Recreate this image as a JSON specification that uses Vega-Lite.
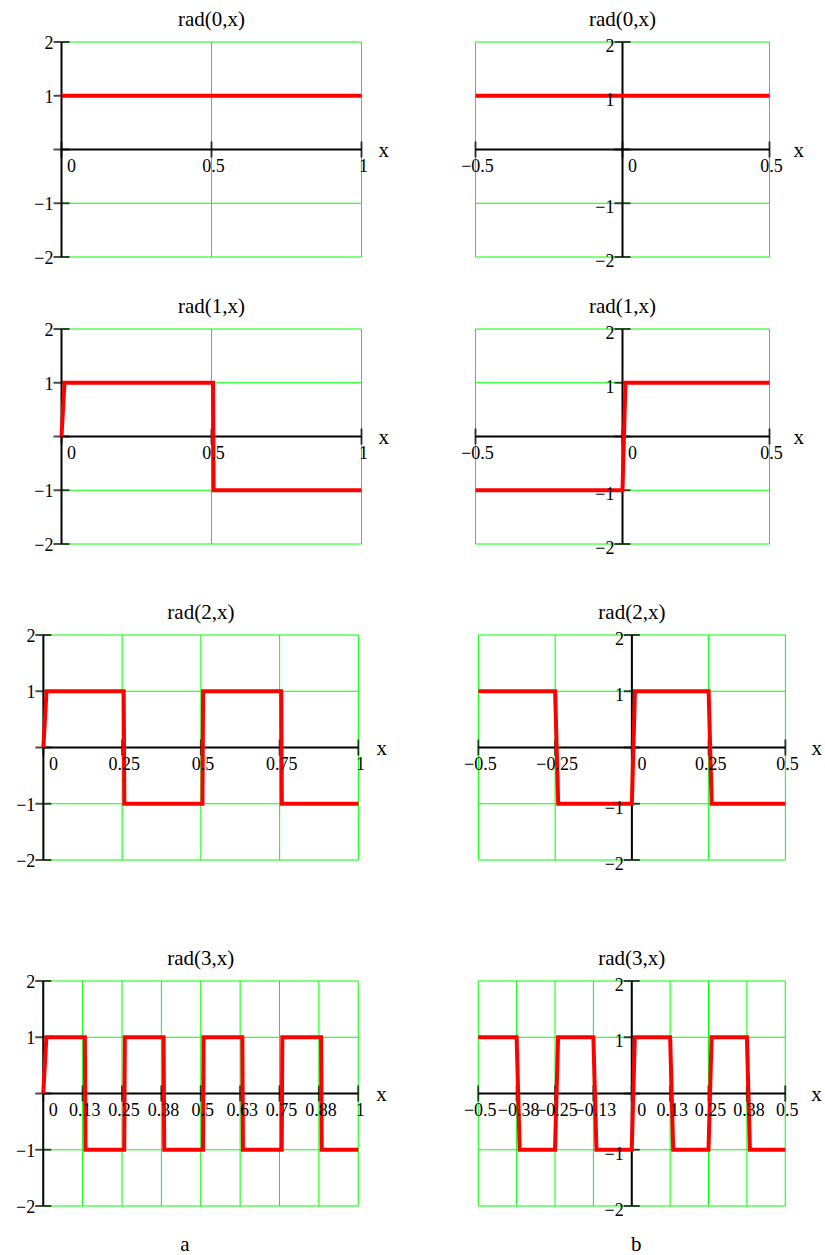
{
  "$schema": "https://vega.github.io/schema/vega-lite/v6.json",
  "background": "white",
  "padding": {"left": 16, "top": 9, "right": 5, "bottom": 5},
  "config": {
    "view": {"stroke": null},
    "text": {"font": "Liberation Serif", "fontSize": 18, "color": "black"},
    "title": {"font": "Liberation Serif", "fontSize": 21, "fontWeight": "normal", "color": "black", "offset": 5, "frame": "group", "anchor": "middle"}
  },
  "datasets": {
    "curves": [
      {"panel": "L0", "x": 0, "y": 1}, {"panel": "L0", "x": 1, "y": 1},
      {"panel": "L1", "x": 0, "y": 0}, {"panel": "L1", "x": 0.01, "y": 1}, {"panel": "L1", "x": 0.505, "y": 1}, {"panel": "L1", "x": 0.507, "y": -1}, {"panel": "L1", "x": 1, "y": -1},
      {"panel": "L2", "x": 0, "y": 0}, {"panel": "L2", "x": 0.01, "y": 1}, {"panel": "L2", "x": 0.255, "y": 1}, {"panel": "L2", "x": 0.257, "y": -1}, {"panel": "L2", "x": 0.505, "y": -1}, {"panel": "L2", "x": 0.507, "y": 1}, {"panel": "L2", "x": 0.755, "y": 1}, {"panel": "L2", "x": 0.757, "y": -1}, {"panel": "L2", "x": 1, "y": -1},
      {"panel": "L3", "x": 0, "y": 0}, {"panel": "L3", "x": 0.01, "y": 1}, {"panel": "L3", "x": 0.132, "y": 1}, {"panel": "L3", "x": 0.134, "y": -1}, {"panel": "L3", "x": 0.257, "y": -1}, {"panel": "L3", "x": 0.259, "y": 1}, {"panel": "L3", "x": 0.382, "y": 1}, {"panel": "L3", "x": 0.384, "y": -1}, {"panel": "L3", "x": 0.507, "y": -1}, {"panel": "L3", "x": 0.509, "y": 1}, {"panel": "L3", "x": 0.632, "y": 1}, {"panel": "L3", "x": 0.634, "y": -1}, {"panel": "L3", "x": 0.757, "y": -1}, {"panel": "L3", "x": 0.759, "y": 1}, {"panel": "L3", "x": 0.882, "y": 1}, {"panel": "L3", "x": 0.884, "y": -1}, {"panel": "L3", "x": 1, "y": -1},
      {"panel": "R0", "x": -0.5, "y": 1}, {"panel": "R0", "x": 0.5, "y": 1},
      {"panel": "R1", "x": -0.5, "y": -1}, {"panel": "R1", "x": 0, "y": -1}, {"panel": "R1", "x": 0.01, "y": 1}, {"panel": "R1", "x": 0.5, "y": 1},
      {"panel": "R2", "x": -0.5, "y": 1}, {"panel": "R2", "x": -0.25, "y": 1}, {"panel": "R2", "x": -0.24, "y": -1}, {"panel": "R2", "x": 0, "y": -1}, {"panel": "R2", "x": 0.01, "y": 1}, {"panel": "R2", "x": 0.25, "y": 1}, {"panel": "R2", "x": 0.26, "y": -1}, {"panel": "R2", "x": 0.5, "y": -1},
      {"panel": "R3", "x": -0.5, "y": 1}, {"panel": "R3", "x": -0.375, "y": 1}, {"panel": "R3", "x": -0.365, "y": -1}, {"panel": "R3", "x": -0.25, "y": -1}, {"panel": "R3", "x": -0.24, "y": 1}, {"panel": "R3", "x": -0.125, "y": 1}, {"panel": "R3", "x": -0.115, "y": -1}, {"panel": "R3", "x": 0, "y": -1}, {"panel": "R3", "x": 0.01, "y": 1}, {"panel": "R3", "x": 0.125, "y": 1}, {"panel": "R3", "x": 0.135, "y": -1}, {"panel": "R3", "x": 0.25, "y": -1}, {"panel": "R3", "x": 0.26, "y": 1}, {"panel": "R3", "x": 0.375, "y": 1}, {"panel": "R3", "x": 0.385, "y": -1}, {"panel": "R3", "x": 0.5, "y": -1}
    ],
    "xticks": [
      {"set": "Lc", "x": 0}, {"set": "Lc", "x": 0.5}, {"set": "Lc", "x": 1},
      {"set": "Lm", "x": 0}, {"set": "Lm", "x": 0.25}, {"set": "Lm", "x": 0.5}, {"set": "Lm", "x": 0.75}, {"set": "Lm", "x": 1},
      {"set": "Lf", "x": 0}, {"set": "Lf", "x": 0.125}, {"set": "Lf", "x": 0.25}, {"set": "Lf", "x": 0.375}, {"set": "Lf", "x": 0.5}, {"set": "Lf", "x": 0.625}, {"set": "Lf", "x": 0.75}, {"set": "Lf", "x": 0.875}, {"set": "Lf", "x": 1},
      {"set": "Rc", "x": -0.5}, {"set": "Rc", "x": 0}, {"set": "Rc", "x": 0.5},
      {"set": "Rm", "x": -0.5}, {"set": "Rm", "x": -0.25}, {"set": "Rm", "x": 0}, {"set": "Rm", "x": 0.25}, {"set": "Rm", "x": 0.5},
      {"set": "Rf", "x": -0.5}, {"set": "Rf", "x": -0.375}, {"set": "Rf", "x": -0.25}, {"set": "Rf", "x": -0.125}, {"set": "Rf", "x": 0}, {"set": "Rf", "x": 0.125}, {"set": "Rf", "x": 0.25}, {"set": "Rf", "x": 0.375}, {"set": "Rf", "x": 0.5}
    ],
    "yticks": [{"y": -2}, {"y": -1}, {"y": 0}, {"y": 1}, {"y": 2}]
  },
  "center": true,
  "spacing": 74,
  "vconcat": [
    {
      "center": true,
      "spacing": 44,
      "vconcat": [
        {
          "center": true,
          "spacing": 25,
          "vconcat": [
            {
              "bounds": "flush",
              "spacing": 114,
              "hconcat": [
                {
                  "width": 300, "height": 215,
                  "title": "rad(0,x)",
                  "layer": [
                    {"data": {"name": "xticks"}, "transform": [{"filter": "datum.set === 'Lc'"}], "mark": {"type": "rule", "color": "#00ff00", "strokeWidth": 1}, "encoding": {"x": {"field": "x", "type": "quantitative", "scale": {"domain": [0, 1], "nice": false, "zero": false}, "axis": null}}},
                    {"data": {"name": "yticks"}, "mark": {"type": "rule", "color": "#00ff00", "strokeWidth": 1}, "encoding": {"y": {"field": "y", "type": "quantitative", "scale": {"domain": [-2, 2], "nice": false}, "axis": null}}},
                    {"data": {"values": [{}]}, "mark": {"type": "rule", "color": "black", "strokeWidth": 2}, "encoding": {"x": {"datum": 0}, "x2": {"datum": 1}, "y": {"datum": 0}}},
                    {"data": {"values": [{}]}, "mark": {"type": "rule", "color": "black", "strokeWidth": 2}, "encoding": {"x": {"datum": 0}, "y": {"datum": -2}, "y2": {"datum": 2}}},
                    {"data": {"name": "yticks"}, "mark": {"type": "tick", "orient": "horizontal", "size": 16, "thickness": 2, "color": "black"}, "encoding": {"x": {"datum": 0}, "y": {"field": "y", "type": "quantitative"}}},
                    {"data": {"name": "xticks"}, "transform": [{"filter": "datum.set === 'Lc'"}], "mark": {"type": "tick", "orient": "vertical", "size": 16, "thickness": 2, "color": "black"}, "encoding": {"x": {"field": "x", "type": "quantitative"}, "y": {"datum": 0}}},
                    {"data": {"name": "curves"}, "transform": [{"filter": "datum.panel === 'L0'"}], "mark": {"type": "line", "color": "#ff0000", "strokeWidth": 4}, "encoding": {"x": {"field": "x", "type": "quantitative"}, "y": {"field": "y", "type": "quantitative"}}},
                    {"data": {"name": "xticks"}, "transform": [{"filter": "datum.set === 'Lc' && datum.x !== 0"}], "mark": {"type": "text", "dx": 2, "dy": 22, "baseline": "alphabetic"}, "encoding": {"x": {"field": "x", "type": "quantitative"}, "y": {"datum": 0}, "text": {"field": "x", "type": "quantitative", "format": ".2~f"}}},
                    {"data": {"name": "xticks"}, "transform": [{"filter": "datum.set === 'Lc' && datum.x === 0"}], "mark": {"type": "text", "dx": 10, "dy": 22, "baseline": "alphabetic"}, "encoding": {"x": {"field": "x", "type": "quantitative"}, "y": {"datum": 0}, "text": {"field": "x", "type": "quantitative", "format": ".2~f"}}},
                    {"data": {"name": "yticks"}, "transform": [{"filter": "datum.y !== 0"}], "mark": {"type": "text", "align": "right", "dx": -8, "dy": 2, "baseline": "middle"}, "encoding": {"x": {"datum": 0}, "y": {"field": "y", "type": "quantitative"}, "text": {"field": "y", "type": "quantitative", "format": "d"}}},
                    {"data": {"values": [{}]}, "mark": {"type": "text", "align": "left", "dx": 17, "dy": 7, "baseline": "alphabetic", "fontSize": 21}, "encoding": {"x": {"datum": 1}, "y": {"datum": 0}, "text": {"value": "x"}}}
                  ]
                },
                {
                  "width": 294, "height": 215,
                  "title": {"text": "rad(0,x)", "offset": 8},
                  "layer": [
                    {"data": {"name": "xticks"}, "transform": [{"filter": "datum.set === 'Rc'"}], "mark": {"type": "rule", "color": "#00ff00", "strokeWidth": 1}, "encoding": {"x": {"field": "x", "type": "quantitative", "scale": {"domain": [-0.5, 0.5], "nice": false, "zero": false}, "axis": null}}},
                    {"data": {"name": "yticks"}, "mark": {"type": "rule", "color": "#00ff00", "strokeWidth": 1}, "encoding": {"y": {"field": "y", "type": "quantitative", "scale": {"domain": [-2, 2], "nice": false}, "axis": null}}},
                    {"data": {"values": [{}]}, "mark": {"type": "rule", "color": "black", "strokeWidth": 2}, "encoding": {"x": {"datum": -0.5}, "x2": {"datum": 0.5}, "y": {"datum": 0}}},
                    {"data": {"values": [{}]}, "mark": {"type": "rule", "color": "black", "strokeWidth": 2}, "encoding": {"x": {"datum": 0}, "y": {"datum": -2}, "y2": {"datum": 2}}},
                    {"data": {"name": "yticks"}, "mark": {"type": "tick", "orient": "horizontal", "size": 16, "thickness": 2, "color": "black"}, "encoding": {"x": {"datum": 0}, "y": {"field": "y", "type": "quantitative"}}},
                    {"data": {"name": "xticks"}, "transform": [{"filter": "datum.set === 'Rc'"}], "mark": {"type": "tick", "orient": "vertical", "size": 16, "thickness": 2, "color": "black"}, "encoding": {"x": {"field": "x", "type": "quantitative"}, "y": {"datum": 0}}},
                    {"data": {"name": "curves"}, "transform": [{"filter": "datum.panel === 'R0'"}], "mark": {"type": "line", "color": "#ff0000", "strokeWidth": 4}, "encoding": {"x": {"field": "x", "type": "quantitative"}, "y": {"field": "y", "type": "quantitative"}}},
                    {"data": {"name": "xticks"}, "transform": [{"filter": "datum.set === 'Rc' && datum.x !== 0"}], "mark": {"type": "text", "dx": 2, "dy": 22, "baseline": "alphabetic"}, "encoding": {"x": {"field": "x", "type": "quantitative"}, "y": {"datum": 0}, "text": {"field": "x", "type": "quantitative", "format": ".2~f"}}},
                    {"data": {"name": "xticks"}, "transform": [{"filter": "datum.set === 'Rc' && datum.x === 0"}], "mark": {"type": "text", "dx": 10, "dy": 22, "baseline": "alphabetic"}, "encoding": {"x": {"field": "x", "type": "quantitative"}, "y": {"datum": 0}, "text": {"field": "x", "type": "quantitative", "format": ".2~f"}}},
                    {"data": {"name": "yticks"}, "transform": [{"filter": "datum.y !== 0"}], "mark": {"type": "text", "align": "right", "dx": -8, "dy": 5, "baseline": "middle"}, "encoding": {"x": {"datum": 0}, "y": {"field": "y", "type": "quantitative"}, "text": {"field": "y", "type": "quantitative", "format": "d"}}},
                    {"data": {"values": [{}]}, "mark": {"type": "text", "align": "left", "dx": 24, "dy": 7, "baseline": "alphabetic", "fontSize": 21}, "encoding": {"x": {"datum": 0.5}, "y": {"datum": 0}, "text": {"value": "x"}}}
                  ]
                }
              ]
            },
            {
              "bounds": "flush",
              "spacing": 114,
              "hconcat": [
                {
                  "width": 300, "height": 215,
                  "title": "rad(1,x)",
                  "layer": [
                    {"data": {"name": "xticks"}, "transform": [{"filter": "datum.set === 'Lc'"}], "mark": {"type": "rule", "color": "#00ff00", "strokeWidth": 1}, "encoding": {"x": {"field": "x", "type": "quantitative", "scale": {"domain": [0, 1], "nice": false, "zero": false}, "axis": null}}},
                    {"data": {"name": "yticks"}, "mark": {"type": "rule", "color": "#00ff00", "strokeWidth": 1}, "encoding": {"y": {"field": "y", "type": "quantitative", "scale": {"domain": [-2, 2], "nice": false}, "axis": null}}},
                    {"data": {"values": [{}]}, "mark": {"type": "rule", "color": "black", "strokeWidth": 2}, "encoding": {"x": {"datum": 0}, "x2": {"datum": 1}, "y": {"datum": 0}}},
                    {"data": {"values": [{}]}, "mark": {"type": "rule", "color": "black", "strokeWidth": 2}, "encoding": {"x": {"datum": 0}, "y": {"datum": -2}, "y2": {"datum": 2}}},
                    {"data": {"name": "yticks"}, "mark": {"type": "tick", "orient": "horizontal", "size": 16, "thickness": 2, "color": "black"}, "encoding": {"x": {"datum": 0}, "y": {"field": "y", "type": "quantitative"}}},
                    {"data": {"name": "xticks"}, "transform": [{"filter": "datum.set === 'Lc'"}], "mark": {"type": "tick", "orient": "vertical", "size": 16, "thickness": 2, "color": "black"}, "encoding": {"x": {"field": "x", "type": "quantitative"}, "y": {"datum": 0}}},
                    {"data": {"name": "curves"}, "transform": [{"filter": "datum.panel === 'L1'"}], "mark": {"type": "line", "color": "#ff0000", "strokeWidth": 4}, "encoding": {"x": {"field": "x", "type": "quantitative"}, "y": {"field": "y", "type": "quantitative"}}},
                    {"data": {"name": "xticks"}, "transform": [{"filter": "datum.set === 'Lc' && datum.x !== 0"}], "mark": {"type": "text", "dx": 2, "dy": 22, "baseline": "alphabetic"}, "encoding": {"x": {"field": "x", "type": "quantitative"}, "y": {"datum": 0}, "text": {"field": "x", "type": "quantitative", "format": ".2~f"}}},
                    {"data": {"name": "xticks"}, "transform": [{"filter": "datum.set === 'Lc' && datum.x === 0"}], "mark": {"type": "text", "dx": 10, "dy": 22, "baseline": "alphabetic"}, "encoding": {"x": {"field": "x", "type": "quantitative"}, "y": {"datum": 0}, "text": {"field": "x", "type": "quantitative", "format": ".2~f"}}},
                    {"data": {"name": "yticks"}, "transform": [{"filter": "datum.y !== 0"}], "mark": {"type": "text", "align": "right", "dx": -8, "dy": 2, "baseline": "middle"}, "encoding": {"x": {"datum": 0}, "y": {"field": "y", "type": "quantitative"}, "text": {"field": "y", "type": "quantitative", "format": "d"}}},
                    {"data": {"values": [{}]}, "mark": {"type": "text", "align": "left", "dx": 17, "dy": 7, "baseline": "alphabetic", "fontSize": 21}, "encoding": {"x": {"datum": 1}, "y": {"datum": 0}, "text": {"value": "x"}}}
                  ]
                },
                {
                  "width": 294, "height": 215,
                  "title": {"text": "rad(1,x)", "offset": 8},
                  "layer": [
                    {"data": {"name": "xticks"}, "transform": [{"filter": "datum.set === 'Rc'"}], "mark": {"type": "rule", "color": "#00ff00", "strokeWidth": 1}, "encoding": {"x": {"field": "x", "type": "quantitative", "scale": {"domain": [-0.5, 0.5], "nice": false, "zero": false}, "axis": null}}},
                    {"data": {"name": "yticks"}, "mark": {"type": "rule", "color": "#00ff00", "strokeWidth": 1}, "encoding": {"y": {"field": "y", "type": "quantitative", "scale": {"domain": [-2, 2], "nice": false}, "axis": null}}},
                    {"data": {"values": [{}]}, "mark": {"type": "rule", "color": "black", "strokeWidth": 2}, "encoding": {"x": {"datum": -0.5}, "x2": {"datum": 0.5}, "y": {"datum": 0}}},
                    {"data": {"values": [{}]}, "mark": {"type": "rule", "color": "black", "strokeWidth": 2}, "encoding": {"x": {"datum": 0}, "y": {"datum": -2}, "y2": {"datum": 2}}},
                    {"data": {"name": "yticks"}, "mark": {"type": "tick", "orient": "horizontal", "size": 16, "thickness": 2, "color": "black"}, "encoding": {"x": {"datum": 0}, "y": {"field": "y", "type": "quantitative"}}},
                    {"data": {"name": "xticks"}, "transform": [{"filter": "datum.set === 'Rc'"}], "mark": {"type": "tick", "orient": "vertical", "size": 16, "thickness": 2, "color": "black"}, "encoding": {"x": {"field": "x", "type": "quantitative"}, "y": {"datum": 0}}},
                    {"data": {"name": "curves"}, "transform": [{"filter": "datum.panel === 'R1'"}], "mark": {"type": "line", "color": "#ff0000", "strokeWidth": 4}, "encoding": {"x": {"field": "x", "type": "quantitative"}, "y": {"field": "y", "type": "quantitative"}}},
                    {"data": {"name": "xticks"}, "transform": [{"filter": "datum.set === 'Rc' && datum.x !== 0"}], "mark": {"type": "text", "dx": 2, "dy": 22, "baseline": "alphabetic"}, "encoding": {"x": {"field": "x", "type": "quantitative"}, "y": {"datum": 0}, "text": {"field": "x", "type": "quantitative", "format": ".2~f"}}},
                    {"data": {"name": "xticks"}, "transform": [{"filter": "datum.set === 'Rc' && datum.x === 0"}], "mark": {"type": "text", "dx": 10, "dy": 22, "baseline": "alphabetic"}, "encoding": {"x": {"field": "x", "type": "quantitative"}, "y": {"datum": 0}, "text": {"field": "x", "type": "quantitative", "format": ".2~f"}}},
                    {"data": {"name": "yticks"}, "transform": [{"filter": "datum.y !== 0"}], "mark": {"type": "text", "align": "right", "dx": -8, "dy": 5, "baseline": "middle"}, "encoding": {"x": {"datum": 0}, "y": {"field": "y", "type": "quantitative"}, "text": {"field": "y", "type": "quantitative", "format": "d"}}},
                    {"data": {"values": [{}]}, "mark": {"type": "text", "align": "left", "dx": 24, "dy": 7, "baseline": "alphabetic", "fontSize": 21}, "encoding": {"x": {"datum": 0.5}, "y": {"datum": 0}, "text": {"value": "x"}}}
                  ]
                }
              ]
            }
          ]
        },
        {
          "bounds": "flush",
          "spacing": 120,
          "hconcat": [
            {
              "width": 315, "height": 225,
              "title": "rad(2,x)",
              "layer": [
                {"data": {"name": "xticks"}, "transform": [{"filter": "datum.set === 'Lm'"}], "mark": {"type": "rule", "color": "#00ff00", "strokeWidth": 1}, "encoding": {"x": {"field": "x", "type": "quantitative", "scale": {"domain": [0, 1], "nice": false, "zero": false}, "axis": null}}},
                {"data": {"name": "yticks"}, "mark": {"type": "rule", "color": "#00ff00", "strokeWidth": 1}, "encoding": {"y": {"field": "y", "type": "quantitative", "scale": {"domain": [-2, 2], "nice": false}, "axis": null}}},
                {"data": {"values": [{}]}, "mark": {"type": "rule", "color": "black", "strokeWidth": 2}, "encoding": {"x": {"datum": 0}, "x2": {"datum": 1}, "y": {"datum": 0}}},
                {"data": {"values": [{}]}, "mark": {"type": "rule", "color": "black", "strokeWidth": 2}, "encoding": {"x": {"datum": 0}, "y": {"datum": -2}, "y2": {"datum": 2}}},
                {"data": {"name": "yticks"}, "mark": {"type": "tick", "orient": "horizontal", "size": 16, "thickness": 2, "color": "black"}, "encoding": {"x": {"datum": 0}, "y": {"field": "y", "type": "quantitative"}}},
                {"data": {"name": "xticks"}, "transform": [{"filter": "datum.set === 'Lm'"}], "mark": {"type": "tick", "orient": "vertical", "size": 16, "thickness": 2, "color": "black"}, "encoding": {"x": {"field": "x", "type": "quantitative"}, "y": {"datum": 0}}},
                {"data": {"name": "curves"}, "transform": [{"filter": "datum.panel === 'L2'"}], "mark": {"type": "line", "color": "#ff0000", "strokeWidth": 4}, "encoding": {"x": {"field": "x", "type": "quantitative"}, "y": {"field": "y", "type": "quantitative"}}},
                {"data": {"name": "xticks"}, "transform": [{"filter": "datum.set === 'Lm' && datum.x !== 0"}], "mark": {"type": "text", "dx": 2, "dy": 22, "baseline": "alphabetic"}, "encoding": {"x": {"field": "x", "type": "quantitative"}, "y": {"datum": 0}, "text": {"field": "x", "type": "quantitative", "format": ".2~f"}}},
                {"data": {"name": "xticks"}, "transform": [{"filter": "datum.set === 'Lm' && datum.x === 0"}], "mark": {"type": "text", "dx": 10, "dy": 22, "baseline": "alphabetic"}, "encoding": {"x": {"field": "x", "type": "quantitative"}, "y": {"datum": 0}, "text": {"field": "x", "type": "quantitative", "format": ".2~f"}}},
                {"data": {"name": "yticks"}, "transform": [{"filter": "datum.y !== 0"}], "mark": {"type": "text", "align": "right", "dx": -8, "dy": 2, "baseline": "middle"}, "encoding": {"x": {"datum": 0}, "y": {"field": "y", "type": "quantitative"}, "text": {"field": "y", "type": "quantitative", "format": "d"}}},
                {"data": {"values": [{}]}, "mark": {"type": "text", "align": "left", "dx": 18, "dy": 7, "baseline": "alphabetic", "fontSize": 21}, "encoding": {"x": {"datum": 1}, "y": {"datum": 0}, "text": {"value": "x"}}}
              ]
            },
            {
              "width": 307, "height": 225,
              "title": {"text": "rad(2,x)", "offset": 8},
              "layer": [
                {"data": {"name": "xticks"}, "transform": [{"filter": "datum.set === 'Rm'"}], "mark": {"type": "rule", "color": "#00ff00", "strokeWidth": 1}, "encoding": {"x": {"field": "x", "type": "quantitative", "scale": {"domain": [-0.5, 0.5], "nice": false, "zero": false}, "axis": null}}},
                {"data": {"name": "yticks"}, "mark": {"type": "rule", "color": "#00ff00", "strokeWidth": 1}, "encoding": {"y": {"field": "y", "type": "quantitative", "scale": {"domain": [-2, 2], "nice": false}, "axis": null}}},
                {"data": {"values": [{}]}, "mark": {"type": "rule", "color": "black", "strokeWidth": 2}, "encoding": {"x": {"datum": -0.5}, "x2": {"datum": 0.5}, "y": {"datum": 0}}},
                {"data": {"values": [{}]}, "mark": {"type": "rule", "color": "black", "strokeWidth": 2}, "encoding": {"x": {"datum": 0}, "y": {"datum": -2}, "y2": {"datum": 2}}},
                {"data": {"name": "yticks"}, "mark": {"type": "tick", "orient": "horizontal", "size": 16, "thickness": 2, "color": "black"}, "encoding": {"x": {"datum": 0}, "y": {"field": "y", "type": "quantitative"}}},
                {"data": {"name": "xticks"}, "transform": [{"filter": "datum.set === 'Rm'"}], "mark": {"type": "tick", "orient": "vertical", "size": 16, "thickness": 2, "color": "black"}, "encoding": {"x": {"field": "x", "type": "quantitative"}, "y": {"datum": 0}}},
                {"data": {"name": "curves"}, "transform": [{"filter": "datum.panel === 'R2'"}], "mark": {"type": "line", "color": "#ff0000", "strokeWidth": 4}, "encoding": {"x": {"field": "x", "type": "quantitative"}, "y": {"field": "y", "type": "quantitative"}}},
                {"data": {"name": "xticks"}, "transform": [{"filter": "datum.set === 'Rm' && datum.x !== 0"}], "mark": {"type": "text", "dx": 2, "dy": 22, "baseline": "alphabetic"}, "encoding": {"x": {"field": "x", "type": "quantitative"}, "y": {"datum": 0}, "text": {"field": "x", "type": "quantitative", "format": ".2~f"}}},
                {"data": {"name": "xticks"}, "transform": [{"filter": "datum.set === 'Rm' && datum.x === 0"}], "mark": {"type": "text", "dx": 10, "dy": 22, "baseline": "alphabetic"}, "encoding": {"x": {"field": "x", "type": "quantitative"}, "y": {"datum": 0}, "text": {"field": "x", "type": "quantitative", "format": ".2~f"}}},
                {"data": {"name": "yticks"}, "transform": [{"filter": "datum.y !== 0"}], "mark": {"type": "text", "align": "right", "dx": -8, "dy": 5, "baseline": "middle"}, "encoding": {"x": {"datum": 0}, "y": {"field": "y", "type": "quantitative"}, "text": {"field": "y", "type": "quantitative", "format": "d"}}},
                {"data": {"values": [{}]}, "mark": {"type": "text", "align": "left", "dx": 26, "dy": 7, "baseline": "alphabetic", "fontSize": 21}, "encoding": {"x": {"datum": 0.5}, "y": {"datum": 0}, "text": {"value": "x"}}}
              ]
            }
          ]
        }
      ]
    },
    {
      "bounds": "flush",
      "spacing": 120,
      "hconcat": [
        {
          "width": 315, "height": 225,
          "title": "rad(3,x)",
          "layer": [
            {"data": {"name": "xticks"}, "transform": [{"filter": "datum.set === 'Lf'"}], "mark": {"type": "rule", "color": "#00ff00", "strokeWidth": 1}, "encoding": {"x": {"field": "x", "type": "quantitative", "scale": {"domain": [0, 1], "nice": false, "zero": false}, "axis": null}}},
            {"data": {"name": "yticks"}, "mark": {"type": "rule", "color": "#00ff00", "strokeWidth": 1}, "encoding": {"y": {"field": "y", "type": "quantitative", "scale": {"domain": [-2, 2], "nice": false}, "axis": null}}},
            {"data": {"values": [{}]}, "mark": {"type": "rule", "color": "black", "strokeWidth": 2}, "encoding": {"x": {"datum": 0}, "x2": {"datum": 1}, "y": {"datum": 0}}},
            {"data": {"values": [{}]}, "mark": {"type": "rule", "color": "black", "strokeWidth": 2}, "encoding": {"x": {"datum": 0}, "y": {"datum": -2}, "y2": {"datum": 2}}},
            {"data": {"name": "yticks"}, "mark": {"type": "tick", "orient": "horizontal", "size": 16, "thickness": 2, "color": "black"}, "encoding": {"x": {"datum": 0}, "y": {"field": "y", "type": "quantitative"}}},
            {"data": {"name": "xticks"}, "transform": [{"filter": "datum.set === 'Lf'"}], "mark": {"type": "tick", "orient": "vertical", "size": 16, "thickness": 2, "color": "black"}, "encoding": {"x": {"field": "x", "type": "quantitative"}, "y": {"datum": 0}}},
            {"data": {"name": "curves"}, "transform": [{"filter": "datum.panel === 'L3'"}], "mark": {"type": "line", "color": "#ff0000", "strokeWidth": 4}, "encoding": {"x": {"field": "x", "type": "quantitative"}, "y": {"field": "y", "type": "quantitative"}}},
            {"data": {"name": "xticks"}, "transform": [{"filter": "datum.set === 'Lf' && datum.x !== 0"}], "mark": {"type": "text", "dx": 2, "dy": 22, "baseline": "alphabetic"}, "encoding": {"x": {"field": "x", "type": "quantitative"}, "y": {"datum": 0}, "text": {"field": "x", "type": "quantitative", "format": ".2~f"}}},
            {"data": {"name": "xticks"}, "transform": [{"filter": "datum.set === 'Lf' && datum.x === 0"}], "mark": {"type": "text", "dx": 10, "dy": 22, "baseline": "alphabetic"}, "encoding": {"x": {"field": "x", "type": "quantitative"}, "y": {"datum": 0}, "text": {"field": "x", "type": "quantitative", "format": ".2~f"}}},
            {"data": {"name": "yticks"}, "transform": [{"filter": "datum.y !== 0"}], "mark": {"type": "text", "align": "right", "dx": -8, "dy": 2, "baseline": "middle"}, "encoding": {"x": {"datum": 0}, "y": {"field": "y", "type": "quantitative"}, "text": {"field": "y", "type": "quantitative", "format": "d"}}},
            {"data": {"values": [{}]}, "mark": {"type": "text", "align": "left", "dx": 18, "dy": 7, "baseline": "alphabetic", "fontSize": 21}, "encoding": {"x": {"datum": 1}, "y": {"datum": 0}, "text": {"value": "x"}}},
            {"data": {"values": [{}]}, "mark": {"type": "text", "dy": 45, "baseline": "alphabetic", "fontSize": 21}, "encoding": {"x": {"datum": 0.45}, "y": {"datum": -2}, "text": {"value": "a"}}}
          ]
        },
        {
          "width": 307, "height": 225,
          "title": {"text": "rad(3,x)", "offset": 8},
          "layer": [
            {"data": {"name": "xticks"}, "transform": [{"filter": "datum.set === 'Rf'"}], "mark": {"type": "rule", "color": "#00ff00", "strokeWidth": 1}, "encoding": {"x": {"field": "x", "type": "quantitative", "scale": {"domain": [-0.5, 0.5], "nice": false, "zero": false}, "axis": null}}},
            {"data": {"name": "yticks"}, "mark": {"type": "rule", "color": "#00ff00", "strokeWidth": 1}, "encoding": {"y": {"field": "y", "type": "quantitative", "scale": {"domain": [-2, 2], "nice": false}, "axis": null}}},
            {"data": {"values": [{}]}, "mark": {"type": "rule", "color": "black", "strokeWidth": 2}, "encoding": {"x": {"datum": -0.5}, "x2": {"datum": 0.5}, "y": {"datum": 0}}},
            {"data": {"values": [{}]}, "mark": {"type": "rule", "color": "black", "strokeWidth": 2}, "encoding": {"x": {"datum": 0}, "y": {"datum": -2}, "y2": {"datum": 2}}},
            {"data": {"name": "yticks"}, "mark": {"type": "tick", "orient": "horizontal", "size": 16, "thickness": 2, "color": "black"}, "encoding": {"x": {"datum": 0}, "y": {"field": "y", "type": "quantitative"}}},
            {"data": {"name": "xticks"}, "transform": [{"filter": "datum.set === 'Rf'"}], "mark": {"type": "tick", "orient": "vertical", "size": 16, "thickness": 2, "color": "black"}, "encoding": {"x": {"field": "x", "type": "quantitative"}, "y": {"datum": 0}}},
            {"data": {"name": "curves"}, "transform": [{"filter": "datum.panel === 'R3'"}], "mark": {"type": "line", "color": "#ff0000", "strokeWidth": 4}, "encoding": {"x": {"field": "x", "type": "quantitative"}, "y": {"field": "y", "type": "quantitative"}}},
            {"data": {"name": "xticks"}, "transform": [{"filter": "datum.set === 'Rf' && datum.x !== 0"}], "mark": {"type": "text", "dx": 2, "dy": 22, "baseline": "alphabetic"}, "encoding": {"x": {"field": "x", "type": "quantitative"}, "y": {"datum": 0}, "text": {"field": "x", "type": "quantitative", "format": ".2~f"}}},
            {"data": {"name": "xticks"}, "transform": [{"filter": "datum.set === 'Rf' && datum.x === 0"}], "mark": {"type": "text", "dx": 10, "dy": 22, "baseline": "alphabetic"}, "encoding": {"x": {"field": "x", "type": "quantitative"}, "y": {"datum": 0}, "text": {"field": "x", "type": "quantitative", "format": ".2~f"}}},
            {"data": {"name": "yticks"}, "transform": [{"filter": "datum.y !== 0"}], "mark": {"type": "text", "align": "right", "dx": -8, "dy": 5, "baseline": "middle"}, "encoding": {"x": {"datum": 0}, "y": {"field": "y", "type": "quantitative"}, "text": {"field": "y", "type": "quantitative", "format": "d"}}},
            {"data": {"values": [{}]}, "mark": {"type": "text", "align": "left", "dx": 26, "dy": 7, "baseline": "alphabetic", "fontSize": 21}, "encoding": {"x": {"datum": 0.5}, "y": {"datum": 0}, "text": {"value": "x"}}},
            {"data": {"values": [{}]}, "mark": {"type": "text", "dy": 45, "baseline": "alphabetic", "fontSize": 21}, "encoding": {"x": {"datum": 0.015}, "y": {"datum": -2}, "text": {"value": "b"}}}
          ]
        }
      ]
    }
  ]
}
